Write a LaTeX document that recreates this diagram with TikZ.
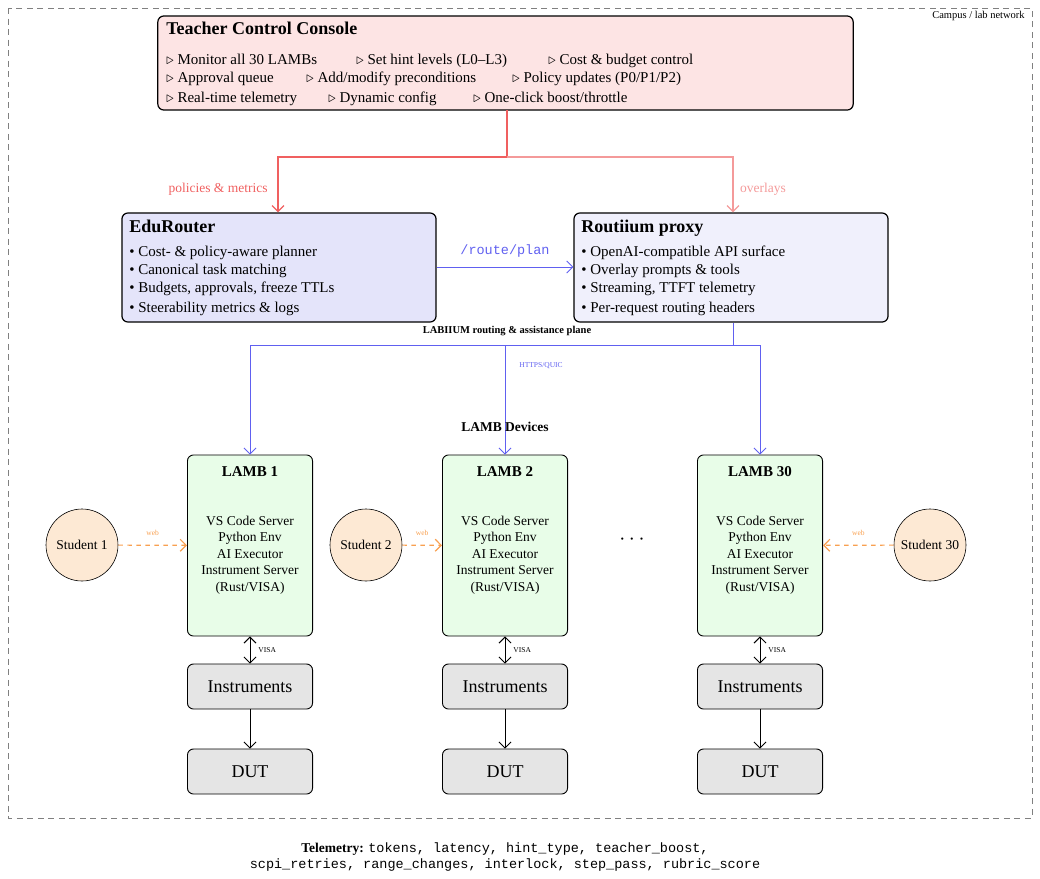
\documentclass[tikz,border=0pt]{standalone}
\usepackage{fontspec}
\setmainfont{Liberation Serif}
\setmonofont{Liberation Mono}
\usetikzlibrary{arrows.meta}
\definecolor{consolefill}{HTML}{FDE4E4}
\definecolor{edufill}{HTML}{E4E4FA}
\definecolor{proxyfill}{HTML}{F0F0FC}
\definecolor{lambfill}{HTML}{E8FDE8}
\definecolor{stufill}{HTML}{FDE9D4}
\definecolor{instfill}{HTML}{E5E5E5}
\definecolor{redA}{HTML}{F06060}
\definecolor{redB}{HTML}{F49A9A}
\definecolor{blueA}{HTML}{6060F0}
\definecolor{orangeA}{HTML}{F8A050}
\begin{document}
\begin{tikzpicture}[x=0.6667pt,y=-0.6667pt,
  box/.style={draw=black,thick,rounded corners=4pt,inner sep=0pt},
  lamb/.style={box,semithick,fill=lambfill,minimum width=83.4pt,minimum height=120.7pt},
  inst/.style={box,semithick,fill=instfill,minimum width=83.4pt,minimum height=30pt,font=\large},
  stu/.style={circle,draw=black,fill=stufill,minimum size=48pt,inner sep=0pt,font=\small},
  itm/.style={anchor=base west,inner sep=0pt},
  arr/.style={-{Straight Barb[length=4pt]}},
  web/.style={arr,orangeA,dashed,thick},
  weblbl/.style={font=\tiny,text=orangeA}]
\useasboundingbox (0,0) rectangle (1040,878);
\draw[gray,dashed,dash pattern=on 4pt off 3pt] (8,8) rectangle (1032,818);
\node[anchor=north east,font=\scriptsize,inner sep=0pt] (net) at (1025,11) {Campus / lab network};
% console
\node[box,fill=consolefill,minimum width=463.6pt,minimum height=62.7pt] (con) at (505.5,63) {};
\node[itm,font=\large\bfseries] (cont) at (166,34) {Teacher Control Console};
\node[itm] (ci1) at (166,64) {$\triangleright$ Monitor all 30 LAMBs};
\node[itm] (ci2) at (356,64) {$\triangleright$ Set hint levels (L0--L3)};
\node[itm] (ci3) at (548,64) {$\triangleright$ Cost \& budget control};
\node[itm] (ci4) at (166,82) {$\triangleright$ Approval queue};
\node[itm] (ci5) at (306,82) {$\triangleright$ Add/modify preconditions};
\node[itm] (ci6) at (512,82) {$\triangleright$ Policy updates (P0/P1/P2)};
\node[itm] (ci7) at (166,102) {$\triangleright$ Real-time telemetry};
\node[itm] (ci8) at (328,102) {$\triangleright$ Dynamic config};
\node[itm] (ci9) at (473,102) {$\triangleright$ One-click boost/throttle};
% router / proxy
\node[box,fill=edufill,minimum width=209.4pt,minimum height=72.7pt] (edu) at (279,267.5) {};
\node[itm,font=\large\bfseries] (edut) at (129,232) {EduRouter};
\node[itm] (ei1) at (129,256) {\textbullet{} Cost- \& policy-aware planner};
\node[itm] (ei2) at (129,274) {\textbullet{} Canonical task matching};
\node[itm] (ei3) at (129,292) {\textbullet{} Budgets, approvals, freeze TTLs};
\node[itm] (ei4) at (129,312) {\textbullet{} Steerability metrics \& logs};
\node[box,fill=proxyfill,minimum width=209.4pt,minimum height=72.7pt] (prx) at (731,267.5) {};
\node[itm,font=\large\bfseries] (prxt) at (581,232) {Routiium proxy};
\node[itm] (pi1) at (581,256) {\textbullet{} OpenAI-compatible API surface};
\node[itm] (pi2) at (581,274) {\textbullet{} Overlay prompts \& tools};
\node[itm] (pi3) at (581,292) {\textbullet{} Streaming, TTFT telemetry};
\node[itm] (pi4) at (581,312) {\textbullet{} Per-request routing headers};
% red connectors
\coordinate (cb) at (507,110);
\coordinate (sp) at (507,157);
\draw[redA,thick,arr] (cb) -- (sp) -| (edu.north -| 278,0);
\draw[redB,thick,arr] (sp) -| (prx.north -| 733,0);
\node[font=\small,text=redA] (l1) at (218,189) {policies \& metrics};
\node[font=\small,text=redB] (l2) at (763,189) {overlays};
\draw[blueA,semithick,arr] (edu.east |- 0,267) -- (prx.west |- 0,267) node[midway,above=3pt,font=\ttfamily\small] (rp) {/route/plan};
\node[font=\scriptsize\bfseries] (plane) at (507,331) {LABIIUM routing \& assistance plane};
% LAMBs
\foreach \n/\x/\s/\sx in {1/250/1/82,2/505/2/366,30/760/30/930}{
  \node[lamb] (lamb\n) at (\x,545.5) {};
  \node[font=\bfseries] (lt\n) at (\x,472) {LAMB \n};
  \node[align=center,font=\small,inner sep=0pt] (lb\n) at (\x,555) {VS Code Server\\Python Env\\AI Executor\\Instrument Server\\(Rust/VISA)};
  \node[inst] (ins\n) at (\x,686.5) {Instruments};
  \node[inst] (dut\n) at (\x,771.5) {DUT};
  \draw[semithick,{Straight Barb[length=4pt]}-{Straight Barb[length=4pt]}] (lamb\n) -- (ins\n) node[midway,right=2pt,font=\tiny] (v\n) {VISA};
  \draw[semithick,arr] (ins\n) -- (dut\n);
  \node[stu] (stu\n) at (\sx,545) {Student \s};
}
\draw[web] (stu1) -- (lamb1) node[midway,above=3pt,weblbl] {web};
\draw[web] (stu2) -- (lamb2) node[midway,above=3pt,weblbl] {web};
\draw[web] (stu30) -- (lamb30) node[midway,above=3pt,weblbl] {web};
\node[font=\Large] (dots) at (632,540) {$\cdots$};
% blue distribution
\coordinate (bs) at (733,345);
\draw[blueA,semithick] (prx.south -| 733,0) -- (bs);
\draw[blueA,semithick] (250,345) -- (760,345);
\draw[blueA,semithick,arr] (250,345) -- (lamb1.north);
\draw[blueA,semithick,arr] (505,345) -- (lamb2.north);
\draw[blueA,semithick,arr] (760,345) -- (lamb30.north);
\node[font=\tiny,text=blueA] (hq) at (541,366) {HTTPS/QUIC};
\node[font=\small\bfseries] (ld) at (505,427) {LAMB Devices};
% telemetry
\node[align=center,font=\small,inner sep=0pt] (tel) at (505,857) {\textbf{Telemetry:} \texttt{tokens, latency, hint\_type, teacher\_boost,}\\\texttt{scpi\_retries, range\_changes, interlock, step\_pass, rubric\_score}};
\end{tikzpicture}
\end{document}
